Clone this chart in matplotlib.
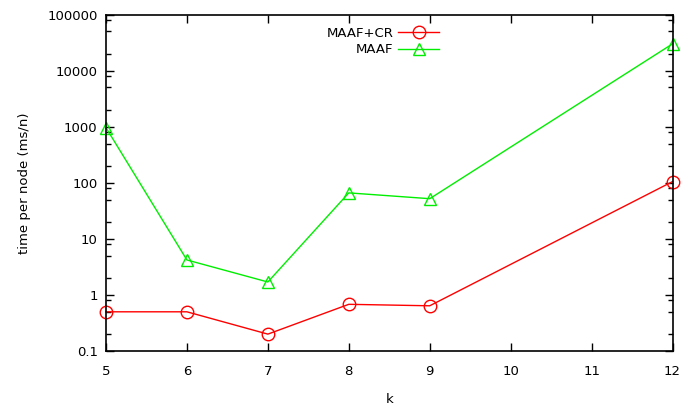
import matplotlib
matplotlib.use("Agg")
import matplotlib.pyplot as plt
from matplotlib.ticker import LogLocator, NullFormatter, FixedLocator

plt.rcParams['font.family'] = ['DejaVu Sans']
plt.rcParams['font.size'] = 9.5

k = [5, 6, 7, 8, 9, 12]
maaf_cr = [0.5, 0.5, 0.2, 0.68, 0.64, 105]
maaf = [960, 4.2, 1.7, 66, 52, 30000]

fig = plt.figure(figsize=(6.85, 4.09), dpi=100)
ax = fig.add_axes([0.1547, 0.1418, 0.8271, 0.8227])

ax.plot(k, maaf_cr, color='#ff0000', lw=1, marker='o', ms=9, mfc='none',
        mec='#ff0000', mew=1, label='MAAF+CR', clip_on=False)
ax.plot(k, maaf, color='#00ee00', lw=1, marker='^', ms=8.5, mfc='none',
        mec='#00ee00', mew=1, label='MAAF', clip_on=False)

ax.set_yscale('log')
ax.set_xlim(5, 12)
ax.set_ylim(0.1, 100000)
ax.xaxis.set_major_locator(FixedLocator([5, 6, 7, 8, 9, 10, 11, 12]))
ax.yaxis.set_major_locator(FixedLocator([0.1, 1, 10, 100, 1000, 10000, 100000]))
ax.set_yticklabels(['0.1', '1', '10', '100', '1000', '10000', '100000'])
ax.yaxis.set_minor_locator(LogLocator(base=10, subs=(2, 5, 8)))
ax.yaxis.set_minor_formatter(NullFormatter())

ax.tick_params(which='both', direction='in', top=True, right=True, width=1)
ax.tick_params(which='major', length=6)
ax.tick_params(axis='x', which='major', pad=10)
ax.tick_params(axis='y', which='major', pad=6)
ax.tick_params(which='minor', length=3.5)
for s in ax.spines.values():
    s.set_linewidth(1.2)

ax.set_xlabel('k', labelpad=11)
ax.set_ylabel('time per node (ms/n)', labelpad=12)

fig.legend(loc='upper right', bbox_to_anchor=(0.651, 0.95), frameon=False,
           markerfirst=False, borderpad=0, handlelength=3.1, handletextpad=0.4,
           labelspacing=0.25)

fig.savefig('out.png', dpi=100)
